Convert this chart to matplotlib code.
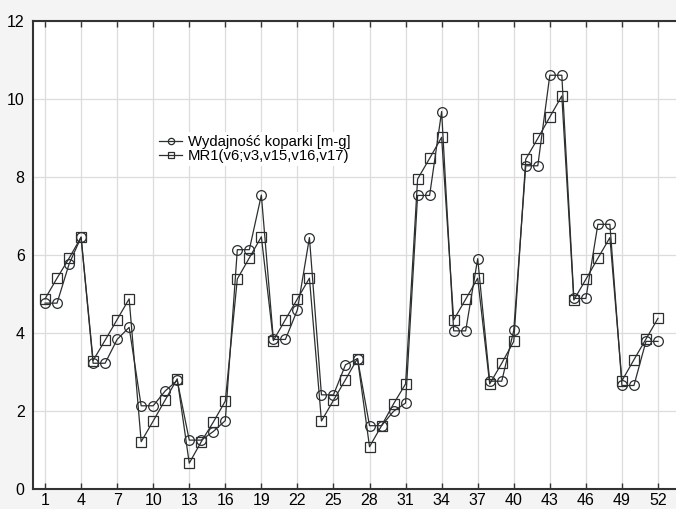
import numpy as np
import matplotlib
matplotlib.use('Agg')
import matplotlib.pyplot as plt

obs = list(range(1, 53))

wydajnosc = [4.77, 4.77, 5.77, 6.46, 3.23, 3.23, 3.84, 4.15, 2.14, 2.14,
             2.52, 2.79, 1.26, 1.26, 1.48, 1.76, 6.14, 6.14, 7.54, 3.84,
             3.84, 4.60, 6.45, 2.42, 2.42, 3.19, 3.35, 1.63, 1.63, 2.00,
             2.21, 7.53, 7.53, 9.68, 4.06, 4.06, 5.91, 2.77, 2.77, 4.07,
             8.29, 8.29, 10.61, 10.61, 4.89, 4.89, 6.79, 6.79, 2.66, 2.66,
             3.79, 3.79]

mr1 = [4.88, 5.41, 5.92, 6.46, 3.30, 3.82, 4.35, 4.88, 1.22, 1.75,
       2.29, 2.83, 0.67, 1.22, 1.72, 2.26, 5.39, 5.93, 6.47, 3.81,
       4.35, 4.88, 5.41, 1.75, 2.28, 2.81, 3.35, 1.09, 1.63, 2.19,
       2.70, 7.95, 8.48, 9.02, 4.34, 4.87, 5.41, 2.70, 3.23, 3.79,
       8.46, 8.99, 9.54, 10.08, 4.85, 5.38, 5.92, 6.45, 2.78, 3.32,
       3.85, 4.38]

labels = ['Wydajność koparki [m-g]', 'MR1(v6;v3,v15,v16,v17)']
xticks = list(range(1, 53, 3))
yticks = [0, 2, 4, 6, 8, 10, 12]

plt.rcParams['font.family'] = ['Liberation Sans', 'DejaVu Sans']

fig = plt.figure(figsize=(6.76, 5.09), dpi=100, facecolor='#f4f4f4')
ax = fig.add_axes([33 / 676, 19.7 / 509, 643 / 676, 468.3 / 509])
ax.set_facecolor('white')

line_col = '#2b2f2f'
ax.plot(obs, wydajnosc, color=line_col, lw=0.9, marker='o', ms=7,
        mfc='none', mec=line_col, mew=0.9, label=labels[0], zorder=3)
ax.plot(obs, mr1, color=line_col, lw=0.9, marker='s', ms=6.5,
        mfc='none', mec=line_col, mew=0.9, label=labels[1], zorder=3)

ax.set_xlim(0, 53.5)
ax.set_ylim(0, 12)
ax.set_xticks(xticks)
ax.set_yticks(yticks)
ax.grid(True, color='#dcdcdc', lw=0.9)
ax.set_axisbelow(True)

for side in ['left', 'bottom', 'top']:
    ax.spines[side].set_color('#333333')
    ax.spines[side].set_linewidth(1.5)
ax.spines['right'].set_visible(False)

ax.tick_params(axis='x', direction='in', top=True, length=4, width=1,
               color='#333333', labelsize=11.5, pad=3)
ax.tick_params(axis='y', direction='in', length=0, labelsize=11.5, pad=6)

leg = ax.legend(loc='center left', bbox_to_anchor=(0.18, 0.727),
                frameon=True, facecolor='white', edgecolor='none', framealpha=1,
                fontsize=10.7, handlelength=1.55, handletextpad=0.4,
                labelspacing=0.0, borderpad=0.2, markerscale=0.65)

fig.savefig('out.png', dpi=100, facecolor=fig.get_facecolor())
